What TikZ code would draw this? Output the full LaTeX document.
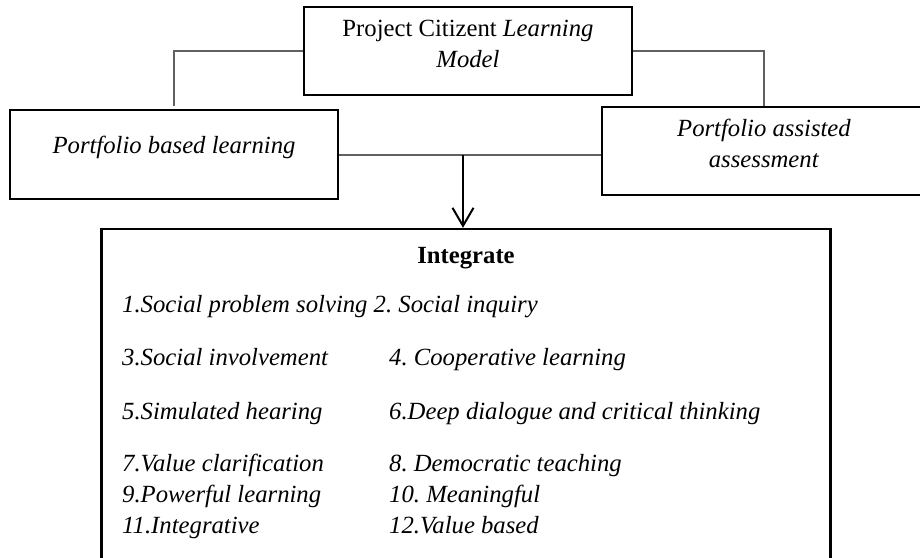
\documentclass[tikz,border=0pt]{standalone}
\usepackage{fontspec}
\setmainfont{Liberation Serif}
\usetikzlibrary{arrows.meta,positioning}

\begin{document}
\frenchspacing
\begin{tikzpicture}[x=1pt,y=-1pt,font=\fontsize{24.7}{31}\selectfont,
  box/.style={draw=black,line width=2.4pt,inner sep=0pt,align=center,font=\fontsize{24.7}{31}\selectfont},
  link/.style={draw=black!62,line width=1.5pt},
  feed/.style={draw=black,line width=2pt,-{Straight Barb[length=18pt,width=21pt,line width=2pt]}},
  item/.style={anchor=base west,inner sep=0pt,font=\fontsize{24.7}{31}\selectfont\itshape}]
  \useasboundingbox (0,0) rectangle (920,557);
  \node[box,minimum width=328pt,minimum height=88pt,text depth=14.5pt] (pcl) at (468,51) {Project Citizent \textit{Learning}\\\textit{Model}};
  \node[box,minimum width=328pt,minimum height=89pt,text height=18pt,text depth=21pt] (pbl) at (174,154.5) {\textit{Portfolio based learning}};
  \node[box,minimum width=324pt,minimum height=88pt,text depth=14.5pt] (paa) at (764,151) {\textit{Portfolio assisted}\\\textit{assessment}};
  \node[box,minimum width=729pt,minimum height=335pt] (integ) at (466,396.5) {};
  \coordinate (split) at (463,155);
  \draw[link,shorten >=3pt] (pcl.west) -| (pbl.north);
  \draw[link] (pcl.east) -| (paa.north);
  \draw[link] (pbl.east |- split) -- (paa.west |- split);
  \draw[feed] (split) -- (split |- integ.north);
  \node[anchor=base,inner sep=0pt,font=\fontsize{24.7}{31}\selectfont\bfseries] (title) at (466,263) {Integrate};
  \node[item] (it1) at (122,312) {1.Social problem solving 2. Social inquiry};
  \foreach \n/\y/\a/\b in {2/365/3.Social involvement/4. Cooperative learning,
    3/419/5.Simulated hearing/6.Deep dialogue and critical thinking,
    4/471/7.Value clarification/8. Democratic teaching,
    5/502/9.Powerful learning/10. Meaningful,
    6/533/11.Integrative/12.Value based}{
    \node[item] (l\n) at (122,\y) {\a};
    \node[item] (r\n) at (389,\y) {\b};
  }
\end{tikzpicture}
\end{document}
